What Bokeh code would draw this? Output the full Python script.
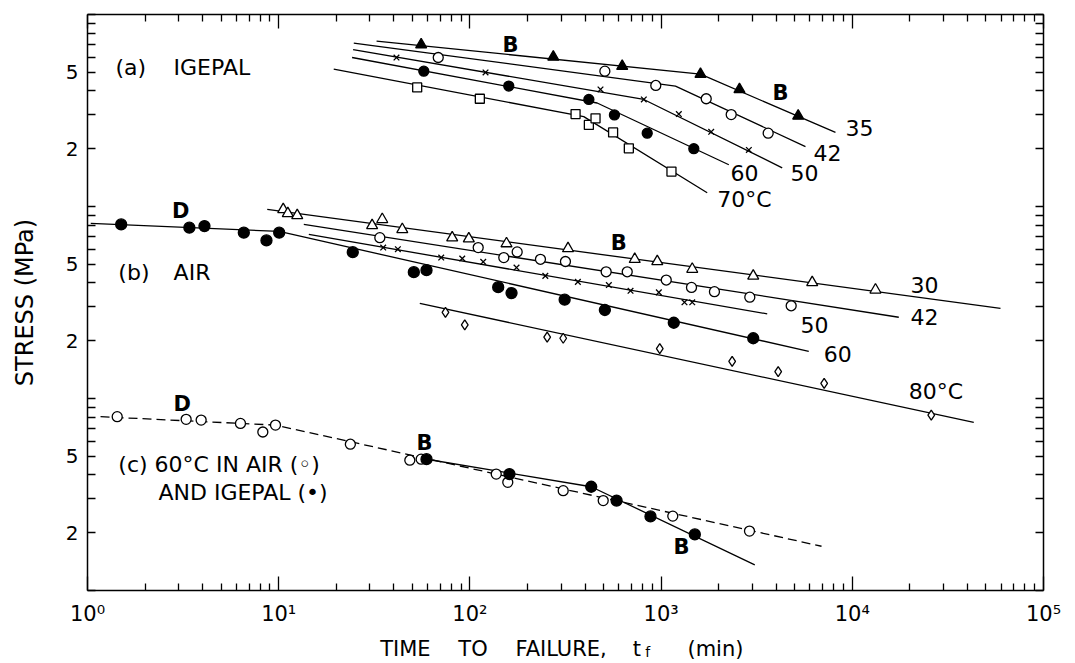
from bokeh.plotting import figure
from bokeh.models import Range1d, LogAxis, FixedTicker, CustomJSTickFormatter, Label
from bokeh.embed import file_html
from bokeh.resources import INLINE

FONT = "DejaVu Sans"

# ---- data: time to failure (min) and stress (MPa) ----
# decade offsets of the three stacked panels on the shared stress axis
OFF_A, OFF_B, OFF_C = 100.0, 10.0, 1.0

# (a) IGEPAL
a35_t = [55.6, 273, 626, 1607, 2570, 5212]
a35_s = [6.97, 6.01, 5.38, 4.89, 4.07, 2.96]
a42_t = [68.3, 508, 938, 1722, 2326, 3631]
a42_s = [5.97, 5.07, 4.27, 3.64, 3.01, 2.41]
a50_t = [41.3, 120.7, 482, 812, 1238, 1828, 2877]
a50_s = [5.97, 4.99, 4.07, 3.61, 3.03, 2.45, 1.97]
a60_t = [57.4, 159.7, 419, 570, 846, 1483]
a60_s = [5.07, 4.24, 3.61, 3.00, 2.41, 2.00]
a70_t = [53.0, 112.7, 357, 419, 454, 561, 678, 1133]
a70_s = [4.17, 3.64, 3.03, 2.66, 2.88, 2.43, 2.01, 1.52]
a35_fit_t = [32.5, 1607, 8166]
a35_fit_s = [7.27, 4.89, 2.43]
a42_fit_t = [24.7, 1189, 5690]
a42_fit_s = [7.10, 4.24, 2.05]
a50_fit_t = [24.5, 812, 4300]
a50_fit_s = [6.56, 3.61, 1.59]
a60_fit_t = [24.2, 463, 2261]
a60_fit_s = [5.97, 3.46, 1.65]
a70_fit_t = [19.4, 394, 1742]
a70_fit_s = [5.19, 2.94, 1.18]

# (b) AIR
b30_t = [10.56, 11.16, 12.50, 30.8, 34.8, 44.3, 80.8, 98.7, 155.4, 326, 728, 955, 1455, 3033, 6170, 13220]
b30_s = [9.65, 9.20, 8.98, 7.97, 8.57, 7.60, 6.88, 6.80, 6.41, 6.04, 5.31, 5.17, 4.72, 4.35, 4.02, 3.68]
b42_t = [33.8, 110.5, 150.4, 176.7, 233.9, 316, 516, 665, 1064, 1442, 1901, 2910, 4790]
b42_s = [6.88, 6.11, 5.42, 5.80, 5.31, 5.17, 4.57, 4.57, 4.14, 3.79, 3.60, 3.37, 3.04]
b50_t = [35.2, 42.0, 70.8, 91.2, 117.4, 175.3, 248, 367, 533, 692, 973, 1325, 1455]
b50_s = [6.11, 5.99, 5.42, 5.36, 5.15, 4.81, 4.35, 4.05, 3.90, 3.64, 3.57, 3.17, 3.17]
b60_t = [1.50, 3.41, 4.09, 6.57, 8.63, 10.06, 24.4, 50.9, 59.3, 140.6, 165.1, 313, 508, 1165, 3033]
b60_s = [8.07, 7.76, 7.91, 7.31, 6.66, 7.31, 5.78, 4.55, 4.66, 3.80, 3.54, 3.27, 2.89, 2.48, 2.06]
b80_t = [74.5, 94.0, 253.6, 307.6, 984, 2353, 4096, 7126, 25880]
b80_s = [2.81, 2.42, 2.09, 2.06, 1.82, 1.56, 1.38, 1.20, 0.819]
b30_fit_t = [8.71, 59570]
b30_fit_s = [9.65, 2.95]
b42_fit_t = [13.53, 17500]
b42_fit_s = [8.07, 2.65]
b50_fit_t = [14.37, 3589]
b50_fit_s = [7.16, 2.76]
b60_fit_t = [1.04, 10.06, 5920]
b60_fit_s = [8.16, 7.42, 1.76]
b80_fit_t = [54.7, 43190]
b80_fit_s = [3.13, 0.751]

# (c) 60 C in air (open) and Igepal (filled)
c_air_t = [1.43, 3.28, 3.93, 6.31, 8.26, 9.62, 23.7, 48.5, 55.6, 137.3, 157.8, 307.6, 498, 1151, 2899]
c_air_s = [8.04, 7.79, 7.72, 7.42, 6.69, 7.27, 5.78, 4.77, 4.83, 4.04, 3.66, 3.31, 2.94, 2.44, 2.04]
c_ig_t = [59.3, 161, 431, 585, 880, 1501]
c_ig_s = [4.83, 4.04, 3.47, 2.94, 2.43, 1.96]
c_air_fit_t = [1.17, 9.62, 6902]
c_air_fit_s = [8.04, 7.27, 1.70]
c_ig_fit_t = [56.3, 431, 3090]
c_ig_fit_s = [4.87, 3.47, 1.36]

x_major = [1, 10, 100, 1000, 10000, 100000]
x_minor = [k * 10 ** d for d in range(5) for k in range(2, 10)]
y_ticks = [k * 10 ** d for d in range(3) for k in range(1, 10)] + [1000]
x_title_words = ["TIME", "TO", "FAILURE,", "t", "(min)"]
x_title_at = [46.0, 103.8, 300.0, 748.0, 1924.0]
x_title_sub = ["f"]
x_title_sub_at = [852.0]

# ---- figure ----
p = figure(width=1063, height=663, x_axis_type="log", y_axis_type="log",
           x_range=Range1d(1, 1e5), y_range=Range1d(1, 1000),
           output_backend="svg", toolbar_location=None,
           min_border_left=87, min_border_right=20, min_border_top=14, min_border_bottom=66)
p.grid.visible = False
p.outline_line_color = None

def style(ax, major_in, minor_in):
    ax.axis_line_color = "black"
    ax.axis_line_width = 1.5
    ax.major_tick_in = major_in
    ax.major_tick_out = 0
    ax.minor_tick_in = minor_in
    ax.minor_tick_out = 0
    ax.major_tick_line_width = 1.3
    ax.minor_tick_line_width = 1.3
    ax.major_tick_line_color = "black"
    ax.minor_tick_line_color = "black"
    ax.major_label_text_font = FONT
    ax.major_label_text_color = "black"

xfmt = CustomJSTickFormatter(code="const e = Math.round(Math.log10(tick)); return '10' + '\u2070\u00b9\u00b2\u00b3\u2074\u2075'[e];")
yfmt = CustomJSTickFormatter(code="const d = Math.pow(10, Math.floor(Math.log10(tick) + 1e-9)); const m = Math.round(tick / d); return (m == 2 || m == 5) ? String(m) : '';")
blank = CustomJSTickFormatter(code="return '';")

xb = p.xaxis[0]
xb.ticker = FixedTicker(ticks=x_major, minor_ticks=x_minor)
xb.formatter = xfmt
style(xb, 14, 7)
xb.major_label_text_font_size = "21px"
xb.major_label_standoff = 11

yl = p.yaxis[0]
yl.ticker = FixedTicker(ticks=y_ticks)
yl.formatter = yfmt
style(yl, 8, 0)
yl.major_label_text_font_size = "20px"
yl.major_label_standoff = 9
yl.axis_label = "STRESS (MPa)"
yl.axis_label_text_font = FONT
yl.axis_label_text_font_size = "24px"
yl.axis_label_text_font_style = "normal"
yl.axis_label_text_color = "black"
yl.axis_label_standoff = 24

xt = LogAxis(ticker=FixedTicker(ticks=x_major, minor_ticks=x_minor), formatter=blank)
style(xt, 14, 7)
xt.major_label_text_font_size = "0px"
xt.major_label_standoff = 0
p.add_layout(xt, "above")

yr = LogAxis(ticker=FixedTicker(ticks=y_ticks), formatter=blank)
style(yr, 8, 0)
yr.major_label_text_font_size = "0px"
yr.major_label_standoff = 0
p.add_layout(yr, "right")

# x-axis title, word by word, as tick labels of two extra bare axes below
def title_axis(ticks, words, size, standoff):
    ax = LogAxis(ticker=FixedTicker(ticks=ticks),
                 formatter=CustomJSTickFormatter(args=dict(words=words), code="return words[index];"))
    ax.axis_line_color = None
    ax.major_tick_line_color = None
    ax.minor_tick_line_color = None
    ax.major_tick_in = 0
    ax.major_tick_out = 0
    ax.major_label_text_font = FONT
    ax.major_label_text_font_size = size
    ax.major_label_text_color = "black"
    ax.major_label_standoff = standoff
    p.add_layout(ax, "below")

title_axis(x_title_at, x_title_words, "21px", 8)
title_axis(x_title_sub_at, x_title_sub, "14px", -20)

def sc(v, off):
    return [s * off for s in v]

LW = 1.3

def fit(t, s, off, dash="solid"):
    p.line(t, sc(s, off), line_color="black", line_width=LW, line_dash=dash)

def pts(t, s, off, marker, filled, size):
    p.scatter(t, sc(s, off), marker=marker, size=size,
              fill_color="black" if filled else "white",
              line_color="black", line_width=1.3)

# panel (a)
fit(a35_fit_t, a35_fit_s, OFF_A)
fit(a42_fit_t, a42_fit_s, OFF_A)
fit(a50_fit_t, a50_fit_s, OFF_A)
fit(a60_fit_t, a60_fit_s, OFF_A)
fit(a70_fit_t, a70_fit_s, OFF_A)
pts(a35_t, a35_s, OFF_A, "triangle", True, 11)
pts(a42_t, a42_s, OFF_A, "circle", False, 10)
pts(a50_t, a50_s, OFF_A, "x", False, 8)
pts(a60_t, a60_s, OFF_A, "circle", True, 10)
pts(a70_t, a70_s, OFF_A, "square", False, 9)

# panel (b)
fit(b30_fit_t, b30_fit_s, OFF_B)
fit(b42_fit_t, b42_fit_s, OFF_B)
fit(b50_fit_t, b50_fit_s, OFF_B)
fit(b60_fit_t, b60_fit_s, OFF_B)
fit(b80_fit_t, b80_fit_s, OFF_B)
pts(b30_t, b30_s, OFF_B, "triangle", False, 11)
pts(b42_t, b42_s, OFF_B, "circle", False, 10)
pts(b50_t, b50_s, OFF_B, "x", False, 8)
pts(b60_t, b60_s, OFF_B, "circle", True, 11)
pts(b80_t, b80_s, OFF_B, "diamond", False, 10)

# panel (c)
fit(c_air_fit_t, c_air_fit_s, OFF_C, "9 5")
fit(c_ig_fit_t, c_ig_fit_s, OFF_C)
pts(c_air_t, c_air_s, OFF_C, "circle", False, 10)
pts(c_ig_t, c_ig_s, OFF_C, "circle", True, 11)

# ---- annotations (data coordinates) ----
def lab(x, y, text, size="22px", bold=False, align="left"):
    p.add_layout(Label(x=x, y=y, text=text, text_font=FONT, text_font_size=size,
                       text_font_style="bold" if bold else "normal",
                       text_align=align, text_baseline="middle", text_color="black"))

lab(1.40, 5.31 * OFF_A, "(a)")
lab(2.82, 5.31 * OFF_A, "IGEPAL")
lab(9204, 2.56 * OFF_A, "35")
lab(6270, 1.90 * OFF_A, "42")
lab(4753, 1.50 * OFF_A, "50")
lab(2307, 1.50 * OFF_A, "60")
lab(1965, 1.09 * OFF_A, "70°C")
lab(163, 6.91 * OFF_A, "B", size="21px", bold=True, align="center")
lab(4210, 3.90 * OFF_A, "B", size="21px", bold=True, align="center")

lab(1.45, 4.55 * OFF_B, "(b)")
lab(2.82, 4.55 * OFF_B, "AIR")
lab(20150, 3.90 * OFF_B, "30")
lab(20150, 2.65 * OFF_B, "42")
lab(5358, 2.40 * OFF_B, "50")
lab(7096, 1.71 * OFF_B, "60")
lab(19760, 1.09 * OFF_B, "80°C")
lab(601, 6.48 * OFF_B, "B", size="21px", bold=True, align="center")
lab(3.07, 9.46 * OFF_B, "D", size="21px", bold=True, align="center")

lab(1.45, 4.55 * OFF_C, "(c) 60°C IN AIR (\u25e6)")
lab(2.35, 3.22 * OFF_C, "AND IGEPAL (\u2022)")
lab(3.13, 9.31 * OFF_C, "D", size="21px", bold=True, align="center")
lab(57.9, 5.89 * OFF_C, "B", size="21px", bold=True, align="center")
lab(1279, 1.68 * OFF_C, "B", size="21px", bold=True, align="center")

open("out.html", "w").write(file_html(p, INLINE))
